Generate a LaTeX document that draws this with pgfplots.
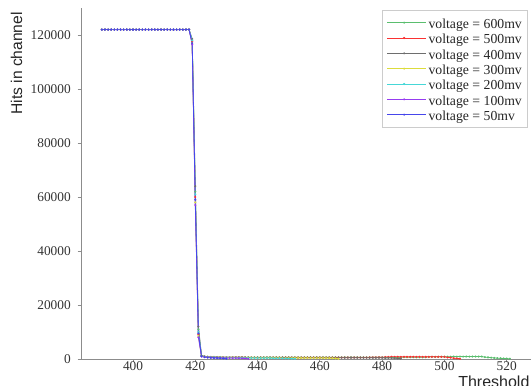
\documentclass[border=0pt]{standalone}
\usepackage{pgfplots}
\pgfplotsset{compat=1.18}
\usepackage{pgfplotstable}
\usepackage{fontspec}
\setmainfont{Liberation Serif}
\setsansfont{Liberation Sans}

\definecolor{cg}{RGB}{90,190,110}
\definecolor{cr}{RGB}{250,50,50}
\definecolor{ck}{RGB}{110,110,110}
\definecolor{cy}{RGB}{220,220,60}
\definecolor{cc}{RGB}{70,215,215}
\definecolor{cp}{RGB}{150,60,240}
\definecolor{cb}{RGB}{70,70,235}

\pgfplotstableread{
x g r k y c p b
390 122000 122000 122000 122000 122000 122000 122000
391 122000 122000 122000 122000 122000 122000 122000
392 122000 122000 122000 122000 122000 122000 122000
393 122000 122000 122000 122000 122000 122000 122000
394 122000 122000 122000 122000 122000 122000 122000
395 122000 122000 122000 122000 122000 122000 122000
396 122000 122000 122000 122000 122000 122000 122000
397 122000 122000 122000 122000 122000 122000 122000
398 122000 122000 122000 122000 122000 122000 122000
399 122000 122000 122000 122000 122000 122000 122000
400 122000 122000 122000 122000 122000 122000 122000
401 122000 122000 122000 122000 122000 122000 122000
402 122000 122000 122000 122000 122000 122000 122000
403 122000 122000 122000 122000 122000 122000 122000
404 122000 122000 122000 122000 122000 122000 122000
405 122000 122000 122000 122000 122000 122000 122000
406 122000 122000 122000 122000 122000 122000 122000
407 122000 122000 122000 122000 122000 122000 122000
408 122000 122000 122000 122000 122000 122000 122000
409 122000 122000 122000 122000 122000 122000 122000
410 122000 122000 122000 122000 122000 122000 122000
411 122000 122000 122000 122000 122000 122000 122000
412 122000 122000 122000 122000 122000 122000 122000
413 122000 122000 122000 122000 122000 122000 122000
414 122000 122000 122000 122000 122000 122000 122000
415 122000 122000 122000 122000 122000 122000 122000
416 122000 122000 122000 122000 122000 122000 122000
417 122000 122000 122000 122000 122000 122000 122000
418 122000 122000 122000 122000 122000 122000 122000
419 118000 117500 118500 117000 118000 116500 117000
420 62000 60000 64000 58000 61000 57000 59000
421 11000 9000 12000 8500 10000 8000 9500
422 1200 1100 1300 1000 1100 900 1000
423 950 900 950 850 800 750 700
424 800 750 800 700 650 600 550
425 750 700 750 650 600 550 450
426 700 700 700 650 600 500 400
427 700 650 700 600 550 500 350
428 700 650 650 600 550 450 300
429 650 650 650 600 500 450 200
430 650 600 650 550 500 400 100
431 650 600 600 550 500 400 nan
432 650 600 600 550 450 350 nan
433 650 600 600 550 450 350 nan
434 600 600 600 500 450 300 nan
435 600 600 600 500 450 250 nan
436 600 550 600 500 400 200 nan
437 600 550 550 500 400 100 nan
438 600 550 550 500 400 nan nan
439 600 550 550 500 400 nan nan
440 600 550 550 450 400 nan nan
441 600 550 550 450 350 nan nan
442 600 550 550 450 350 nan nan
443 600 550 550 450 350 nan nan
444 600 550 550 450 350 nan nan
445 600 550 500 450 300 nan nan
446 600 550 500 450 300 nan nan
447 600 550 500 450 300 nan nan
448 600 550 500 400 250 nan nan
449 600 550 500 400 250 nan nan
450 600 550 500 400 200 nan nan
451 600 550 500 400 150 nan nan
452 600 550 500 400 100 nan nan
453 600 550 500 400 nan nan nan
454 600 550 500 400 nan nan nan
455 600 550 500 400 nan nan nan
456 600 550 500 400 nan nan nan
457 600 550 500 400 nan nan nan
458 600 550 500 400 nan nan nan
459 600 550 500 400 nan nan nan
460 600 550 500 400 nan nan nan
461 600 550 500 350 nan nan nan
462 600 550 500 350 nan nan nan
463 600 550 500 350 nan nan nan
464 600 550 500 300 nan nan nan
465 600 550 500 200 nan nan nan
466 600 550 500 100 nan nan nan
467 600 550 500 nan nan nan nan
468 600 550 500 nan nan nan nan
469 600 550 500 nan nan nan nan
470 600 550 500 nan nan nan nan
471 600 550 500 nan nan nan nan
472 600 550 500 nan nan nan nan
473 600 550 500 nan nan nan nan
474 600 550 500 nan nan nan nan
475 600 550 500 nan nan nan nan
476 600 600 450 nan nan nan nan
477 600 600 450 nan nan nan nan
478 600 600 450 nan nan nan nan
479 600 600 450 nan nan nan nan
480 600 600 450 nan nan nan nan
481 600 700 400 nan nan nan nan
482 600 750 400 nan nan nan nan
483 600 800 350 nan nan nan nan
484 600 800 300 nan nan nan nan
485 600 800 200 nan nan nan nan
486 600 800 100 nan nan nan nan
487 650 800 nan nan nan nan nan
488 650 800 nan nan nan nan nan
489 650 800 nan nan nan nan nan
490 650 800 nan nan nan nan nan
491 650 800 nan nan nan nan nan
492 650 800 nan nan nan nan nan
493 650 800 nan nan nan nan nan
494 650 800 nan nan nan nan nan
495 800 800 nan nan nan nan nan
496 800 800 nan nan nan nan nan
497 800 800 nan nan nan nan nan
498 800 800 nan nan nan nan nan
499 800 800 nan nan nan nan nan
500 800 800 nan nan nan nan nan
501 850 600 nan nan nan nan nan
502 850 500 nan nan nan nan nan
503 900 300 nan nan nan nan nan
504 900 200 nan nan nan nan nan
505 900 100 nan nan nan nan nan
506 900 nan nan nan nan nan nan
507 900 nan nan nan nan nan nan
508 900 nan nan nan nan nan nan
509 900 nan nan nan nan nan nan
510 900 nan nan nan nan nan nan
511 900 nan nan nan nan nan nan
512 900 nan nan nan nan nan nan
513 700 nan nan nan nan nan nan
514 600 nan nan nan nan nan nan
515 500 nan nan nan nan nan nan
516 400 nan nan nan nan nan nan
517 300 nan nan nan nan nan nan
518 250 nan nan nan nan nan nan
519 200 nan nan nan nan nan nan
520 150 nan nan nan nan nan nan
521 100 nan nan nan nan nan nan
}\datatab

\begin{document}
\begin{tikzpicture}
\begin{axis}[
  scale only axis,
  width=337.5pt, height=263.25pt,
  xmin=383.3, xmax=527.8, ymin=0, ymax=130000,
  axis x line*=bottom, axis y line*=left,
  axis line style={black!45, line width=0.7pt},
  xtick={400,420,...,520},
  ytick={0,20000,...,120000},
  scaled y ticks=false,
  yticklabel style={/pgf/number format/fixed, /pgf/number format/1000 sep={}},
  tick pos=left,
  tick align=outside,
  major tick length=2.5pt,
  tick style={black!45, line width=0.7pt},
  ticklabel style={font=\fontsize{10}{12}\selectfont, text=black!80},
  xticklabel style={inner sep=1pt, yshift=2pt},
  yticklabel style={inner sep=2pt, xshift=-3pt},
  /pgf/number format/assume math mode=true,
  legend style={at={(rel axis cs:0.9933,0.9943)}, anchor=north east,
    draw=black!20, line width=0.5pt, font=\fontsize{10.3}{12}\selectfont,
    inner xsep=3pt, inner ysep=3.5pt,
    nodes={inner sep=1.4pt, text height=8.7pt, text depth=0pt, text=black!85}},
  legend cell align=left,
  legend image code/.code={\path (0pt,0pt) -- (29.5pt,0pt);
    \draw[mark repeat=2,mark phase=2,#1] plot coordinates {(1.6pt,0pt) (12.85pt,0pt) (24.1pt,0pt)};},
  every axis plot/.append style={line width=0.6pt, mark=*, mark size=0.45pt},
]
\addplot[color=cg] table[x=x, y=g]{\datatab};
\addlegendentry{voltage = 600mv}
\addplot[color=cr] table[x=x, y=r]{\datatab};
\addlegendentry{voltage = 500mv}
\addplot[color=ck] table[x=x, y=k]{\datatab};
\addlegendentry{voltage = 400mv}
\addplot[color=cy] table[x=x, y=y]{\datatab};
\addlegendentry{voltage = 300mv}
\addplot[color=cc] table[x=x, y=c]{\datatab};
\addlegendentry{voltage = 200mv}
\addplot[color=cp] table[x=x, y=p]{\datatab};
\addlegendentry{voltage = 100mv}
\addplot[color=cb] table[x=x, y=b]{\datatab};
\addlegendentry{voltage = 50mv}
\coordinate (ll) at (rel axis cs:0,0);
\coordinate (ur) at (rel axis cs:1,1);
\end{axis}
\node[rotate=90, font=\sffamily\fontsize{11.7}{14}\selectfont, text=black!85] at ([xshift=-48.25pt, yshift=-41.5pt]ll |- ur) {Hits in channel};
\node[anchor=north west, inner sep=0pt, font=\sffamily\fontsize{12}{14}\selectfont, text=black!85] at ([xshift=282.75pt, yshift=-12.75pt]ll) {Threshold};
\pgfresetboundingbox
\path[use as bounding box] ([xshift=-60.75pt, yshift=-19.5pt]ll) rectangle ([yshift=6pt]ur);
\end{tikzpicture}
\end{document}
